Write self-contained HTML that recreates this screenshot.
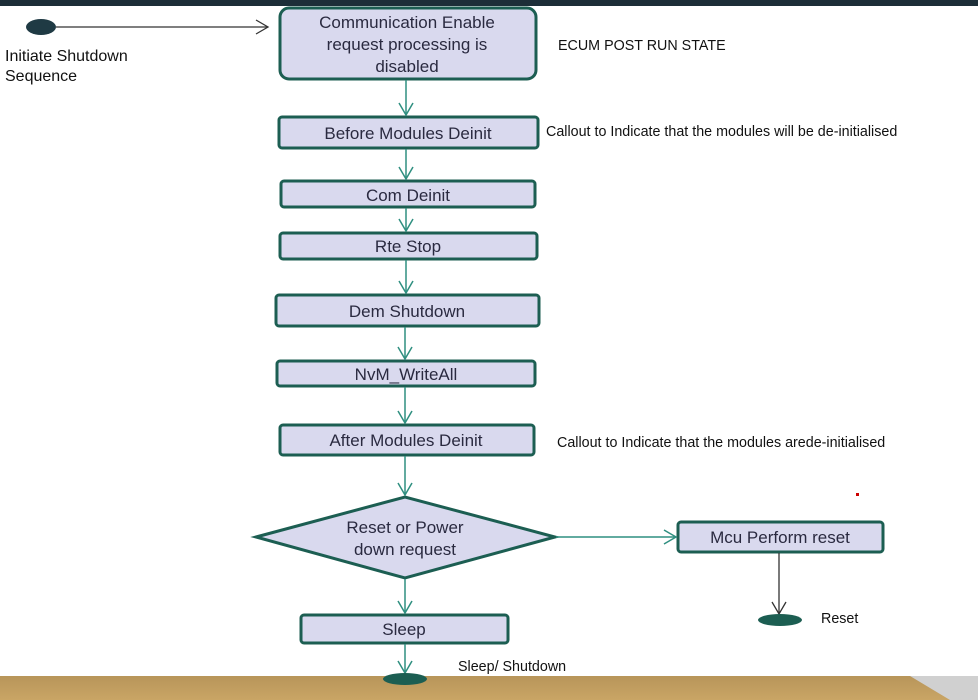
<!DOCTYPE html>
<html><head><style>
html,body{margin:0;padding:0;width:978px;height:700px;overflow:hidden;background:#fff}
svg{display:block}
text{font-family:"Liberation Sans",sans-serif}
</style></head><body>
<svg width="978" height="700" viewBox="0 0 978 700" xmlns="http://www.w3.org/2000/svg">
<defs>
<linearGradient id="tan" x1="0" y1="0" x2="0" y2="1"><stop offset="0" stop-color="#b8955a"/><stop offset="1" stop-color="#c9a565"/></linearGradient>
</defs>
<rect x="0" y="0" width="978" height="6" fill="#1d2e38"/>
<rect x="0" y="676" width="978" height="24" fill="url(#tan)"/>
<polygon points="910,676 978,676 978,700 950,700" fill="#d0d0d0"/>

<g fill="#d9d9ee" stroke="#1c5e52" stroke-width="3">
<rect x="280" y="8" width="256" height="71" rx="9"/>
<rect x="279" y="117" width="259" height="31" rx="3"/>
<rect x="281" y="181" width="254" height="26" rx="3"/>
<rect x="280" y="233" width="257" height="26" rx="3"/>
<rect x="276" y="295" width="263" height="31" rx="3"/>
<rect x="277" y="361" width="258" height="25" rx="3"/>
<rect x="280" y="425" width="254" height="30" rx="3"/>
<polygon points="256,537 405,497 555,537 405,578"/>
<rect x="678" y="522" width="205" height="30" rx="3"/>
<rect x="301" y="615" width="207" height="28" rx="3"/>
</g>

<g stroke="#2f8f80" stroke-width="1.5" fill="none">
<line x1="406" y1="80" x2="406" y2="115"/><polyline points="399,103 406,115 413,103"/>
<line x1="406" y1="149" x2="406" y2="179"/><polyline points="399,167 406,179 413,167"/>
<line x1="406" y1="208" x2="406" y2="231"/><polyline points="399,219 406,231 413,219"/>
<line x1="406" y1="260" x2="406" y2="293"/><polyline points="399,281 406,293 413,281"/>
<line x1="405" y1="327" x2="405" y2="359"/><polyline points="398,347 405,359 412,347"/>
<line x1="405" y1="387" x2="405" y2="423"/><polyline points="398,411 405,423 412,411"/>
<line x1="405" y1="456" x2="405" y2="495"/><polyline points="398,483 405,495 412,483"/>
<line x1="556" y1="537" x2="676" y2="537"/><polyline points="664,530 676,537 664,544"/>
<line x1="405" y1="579" x2="405" y2="613"/><polyline points="398,601 405,613 412,601"/>
<line x1="405" y1="644" x2="405" y2="673"/><polyline points="398,661 405,673 412,661"/>
</g>
<g stroke="#333" stroke-width="1.3" fill="none">
<line x1="56" y1="27" x2="268" y2="27"/><polyline points="256,20 268,27 256,34"/>
<line x1="779" y1="553" x2="779" y2="614"/><polyline points="772,602 779,614 786,602"/>
</g>

<ellipse cx="41" cy="27" rx="15" ry="8" fill="#1f3a44"/>
<ellipse cx="780" cy="620" rx="22" ry="6" fill="#1c5e52"/>
<ellipse cx="405" cy="679" rx="22" ry="6" fill="#1c5e52"/>

<g font-size="17" fill="#2a2a40" text-anchor="middle">
<text x="407" y="28">Communication Enable</text>
<text x="407" y="50">request processing is</text>
<text x="407" y="72">disabled</text>
<text x="408" y="139">Before Modules Deinit</text>
<text x="408" y="201">Com Deinit</text>
<text x="408" y="252">Rte Stop</text>
<text x="407" y="317">Dem Shutdown</text>
<text x="406" y="380">NvM_WriteAll</text>
<text x="406" y="446">After Modules Deinit</text>
<text x="405" y="533">Reset or Power</text>
<text x="405" y="555">down request</text>
<text x="780" y="543">Mcu Perform reset</text>
<text x="404" y="635">Sleep</text>
</g>
<g font-size="16" fill="#111">
<text x="5" y="61">Initiate Shutdown</text>
<text x="5" y="81">Sequence</text>
</g>
<g font-size="14.3" fill="#111">
<text x="558" y="50">ECUM POST RUN STATE</text>
<text x="546" y="136">Callout to Indicate that the modules will be de-initialised</text>
<text x="557" y="447">Callout to Indicate that the modules arede-initialised</text>
<text x="821" y="623">Reset</text>
<text x="458" y="671">Sleep/ Shutdown</text>
</g>
<rect x="856" y="493" width="3" height="3" fill="#c00"/>
</svg>
</body></html>
